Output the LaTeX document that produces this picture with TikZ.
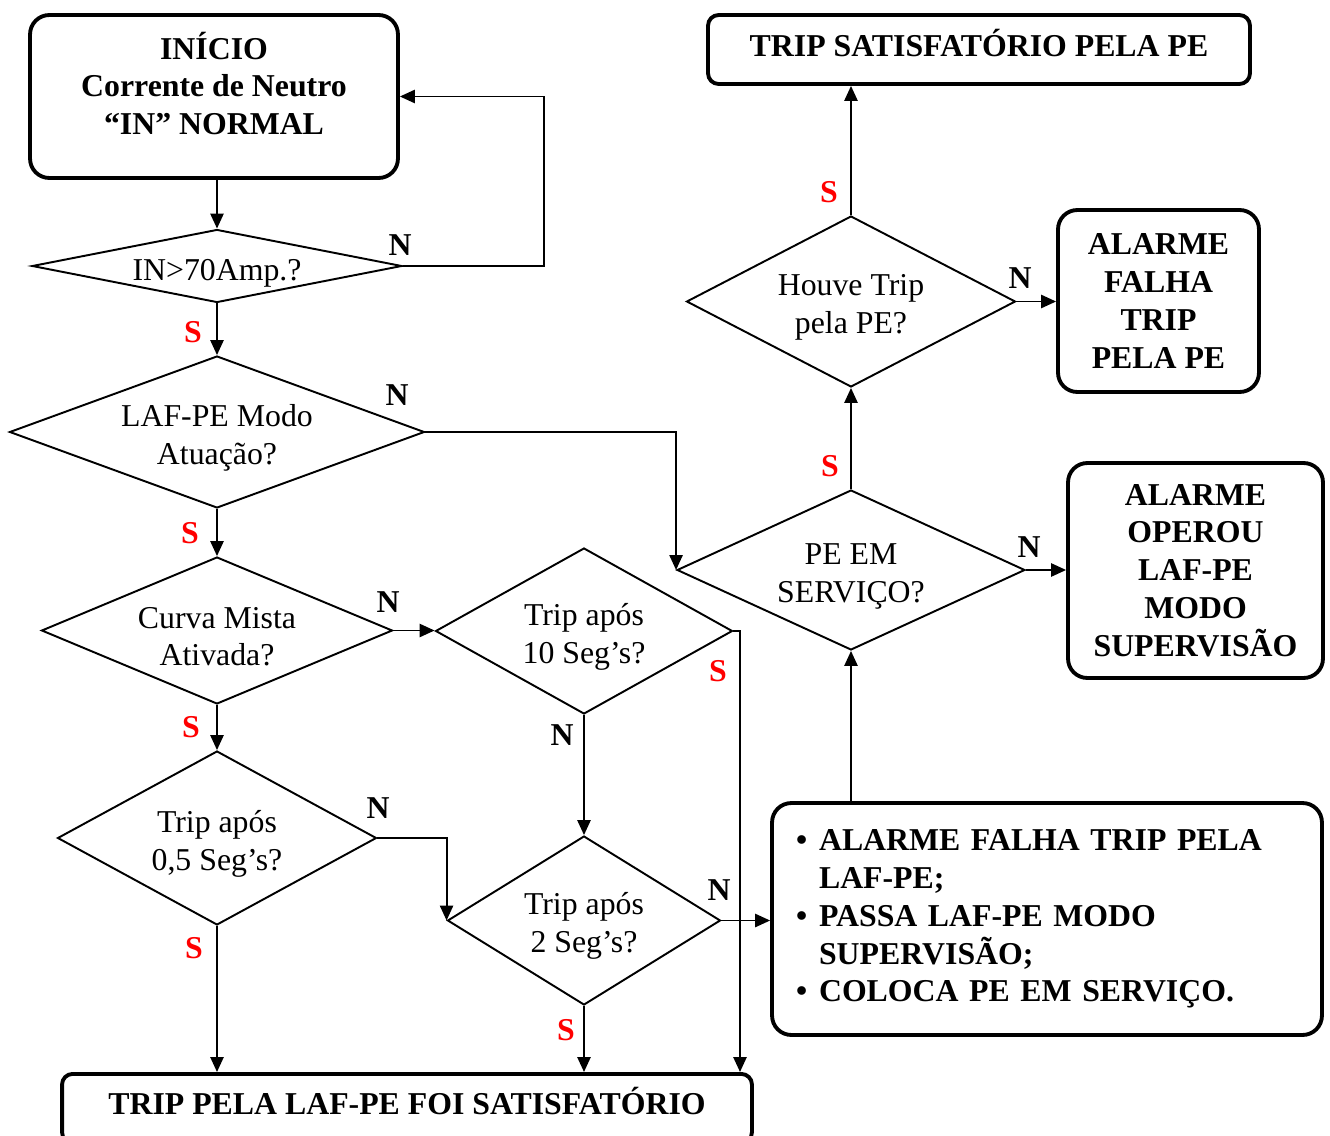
\documentclass[tikz,border=0pt]{standalone}
\usepackage{fontspec}
\setmainfont{Liberation Serif}
\usetikzlibrary{shapes.geometric,arrows.meta}
\newcommand{\topst}{\rule{0pt}{19pt}}
\begin{document}
\begin{tikzpicture}[x=0.02cm,y=-0.02cm,
  every node/.style={font=\fontsize{18.1pt}{21.5pt}\selectfont},
  dec/.style={diamond,draw,line width=1.1pt,inner sep=0pt,align=center},
  box/.style={draw,line width=2.2pt,rounded corners=11pt,align=center,
    font=\fontsize{18.1pt}{21.5pt}\selectfont\bfseries,inner sep=0pt},
  arr/.style={line width=1.1pt,-{Triangle[length=8.5pt,width=7.5pt]}},
  yes/.style={font=\fontsize{18.1pt}{21.5pt}\selectfont\bfseries,text=red,inner sep=0pt},
  no/.style={font=\fontsize{18.1pt}{21.5pt}\selectfont\bfseries,inner sep=0pt},
]
\useasboundingbox[fill=white] (0,0) rectangle (1330,1136);
\clip (0,0) rectangle (1330,1136);

% boxes
\node[box, minimum width=7.36cm, minimum height=3.26cm] (start) at (214,96.5)
  {INÍCIO\\Corrente de Neutro\\“IN” NORMAL\rule[-15pt]{0pt}{0pt}};
\node[box, rounded corners=6pt, minimum width=10.84cm, minimum height=1.38cm,
  text height=12pt, text depth=4.6pt] (sat) at (979,49.5) {TRIP SATISFATÓRIO PELA PE};
\node[box, minimum width=4.02cm, minimum height=3.64cm] (b2) at (1158.5,301)
  {ALARME\\FALHA\\TRIP\\PELA PE};
\node[box, minimum width=5.1cm, minimum height=4.3cm] (b3) at (1195.5,570.5)
  {ALARME\\OPEROU\\LAF-PE\\MODO\\SUPERVISÃO};
\node[box, minimum width=11cm, minimum height=4.64cm, inner xsep=0.48cm,
  text width=10.04cm, align=left] (b4) at (1047,919)
  {\makebox[0.46cm][l]{•}ALARME FALHA TRIP PELA\\
   \hspace*{0.46cm}LAF-PE;\\
   \makebox[0.46cm][l]{•}PASSA LAF-PE MODO\\
   \hspace*{0.46cm}SUPERVISÃO;\\
   \makebox[0.46cm][l]{•}COLOCA PE EM SERVIÇO.};
\node[box, rounded corners=6pt, anchor=north, minimum width=13.8cm, minimum height=1.38cm,
  text height=12pt, text depth=4.6pt] (b5) at (407,1072) {TRIP PELA LAF-PE FOI SATISFATÓRIO};

% decisions
\node[dec, aspect=5.07, minimum width=7.4cm, minimum height=1.46cm, text height=16pt, text depth=0pt]
  (d1) at (217,266) {IN>70Amp.?};
\node[dec, aspect=2.73, minimum width=8.3cm, minimum height=3.04cm] (d2) at (217,432) {\topst LAF-PE Modo\\Atuação?};
\node[dec, aspect=2.39, minimum width=7.02cm, minimum height=2.94cm] (d3) at (217,630.5) {\topst Curva Mista\\Ativada?};
\node[dec, aspect=1.79, minimum width=5.94cm, minimum height=3.32cm] (d4) at (584,631) {\topst Trip após\\10 Seg’s?};
\node[dec, aspect=1.83, minimum width=6.38cm, minimum height=3.48cm] (d5) at (217,838) {\topst Trip após\\0,5 Seg’s?};
\node[dec, aspect=1.62, minimum width=5.46cm, minimum height=3.38cm] (d6) at (584,920.5) {\topst Trip após\\2 Seg’s?};
\node[dec, aspect=2.18, minimum width=6.96cm, minimum height=3.2cm] (d7) at (851,570) {\topst PE EM\\SERVIÇO?};
\node[dec, aspect=1.92, minimum width=6.58cm, minimum height=3.42cm] (d8) at (851,301.5) {\topst Houve Trip\\pela PE?};

% connectors
\draw[arr] (d1.north |- start.south) -- (d1.north);
\draw[arr] (d1.east) -- ++(141,0) |- (start.east);
\draw[arr] (d1.south) -- (d2.north);
\draw[arr] (d2.east) -| (d7.west);
\draw[arr] (d2.south) -- (d3.north);
\draw[arr] (d3.east) -- (d3.east -| d4.west);
\coordinate (c4) at (740,631);
\draw[arr] (d4.east) -- (c4) -- (c4 |- b5.north);
\draw[arr] (d4.south) -- (d6.north);
\draw[arr] (d3.south) -- (d5.north);
\draw[arr] (d5.east) -| (d6.west);
\draw[arr] (d5.south) -- (d5.south |- b5.north);
\draw[arr] (d6.east) -- (d6.east -| b4.west);
\draw[arr] (d6.south) -- (d6.south |- b5.north);
\draw[arr] (d7.south |- b4.north) -- (d7.south);
\draw[arr] (d7.east) -- (d7.east -| b3.west);
\draw[arr] (d7.north) -- (d8.south);
\draw[arr] (d8.east) -- (d8.east -| b2.west);
\draw[arr] (d8.north) -- (d8.north |- sat.south);

% labels
\node[no]  (n1) at (400,245) {N};
\node[yes] (s1) at (193,332) {S};
\node[no]  (n2) at (397,395) {N};
\node[yes] (s2) at (190,533) {S};
\node[no]  (n3) at (388,602) {N};
\node[yes] (s3) at (191,727) {S};
\node[no]  (n5) at (378,808) {N};
\node[yes] (s5) at (194,948) {S};
\node[yes] (s4) at (718,671) {S};
\node[no]  (n4) at (562,735) {N};
\node[no]  (n6) at (719,890) {N};
\node[yes] (s6) at (566,1030) {S};
\node[no]  (n7) at (1029,547) {N};
\node[yes] (s7) at (830,466) {S};
\node[no]  (n8) at (1020,278) {N};
\node[yes] (s8) at (829,192) {S};
\end{tikzpicture}
\end{document}
